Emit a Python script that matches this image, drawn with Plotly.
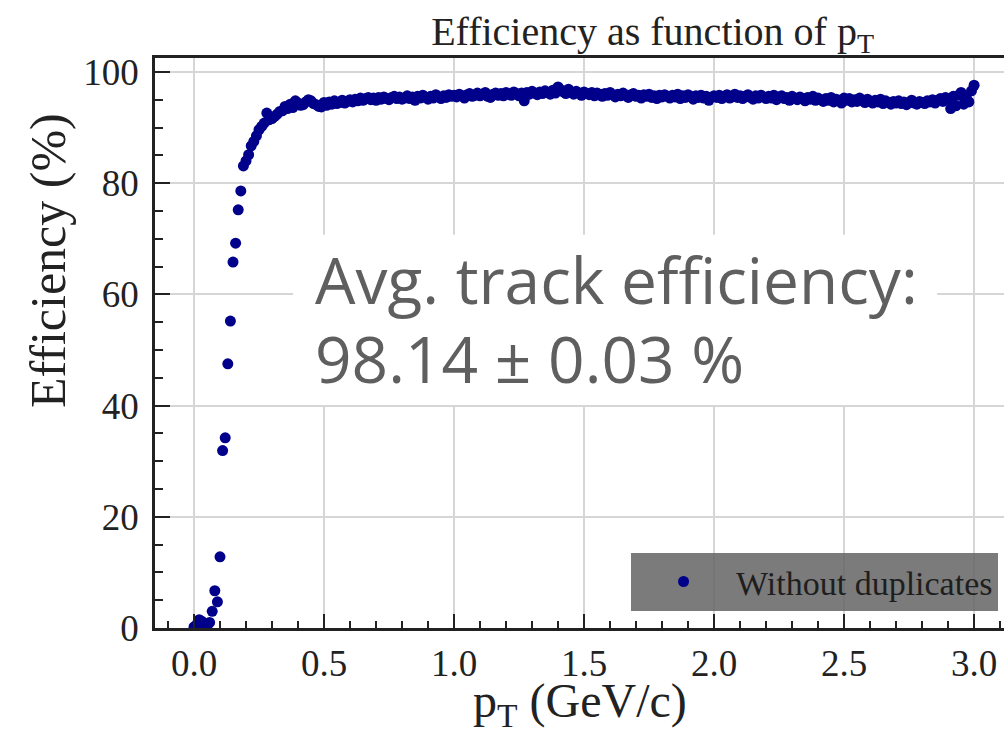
import plotly.graph_objects as go

# transverse momentum bins (GeV/c)
pt = [
    0.00, 0.01, 0.02, 0.03, 0.04, 0.05, 0.06, 0.07, 0.08, 0.09,
    0.10, 0.11, 0.12, 0.13, 0.14, 0.15, 0.16, 0.17, 0.18, 0.19,
    0.20, 0.21, 0.22, 0.23, 0.24, 0.25, 0.26, 0.27, 0.28, 0.29,
    0.30, 0.31, 0.32, 0.33, 0.34, 0.35, 0.36, 0.37, 0.38, 0.39,
    0.40, 0.41, 0.42, 0.43, 0.44, 0.45, 0.46, 0.47, 0.48, 0.49,
    0.50, 0.51, 0.52, 0.53, 0.54, 0.55, 0.56, 0.57, 0.58, 0.59,
    0.60, 0.61, 0.62, 0.63, 0.64, 0.65, 0.66, 0.67, 0.68, 0.69,
    0.70, 0.71, 0.72, 0.73, 0.74, 0.75, 0.76, 0.77, 0.78, 0.79,
    0.80, 0.81, 0.82, 0.83, 0.84, 0.85, 0.86, 0.87, 0.88, 0.89,
    0.90, 0.91, 0.92, 0.93, 0.94, 0.95, 0.96, 0.97, 0.98, 0.99,
    1.00, 1.01, 1.02, 1.03, 1.04, 1.05, 1.06, 1.07, 1.08, 1.09,
    1.10, 1.11, 1.12, 1.13, 1.14, 1.15, 1.16, 1.17, 1.18, 1.19,
    1.20, 1.21, 1.22, 1.23, 1.24, 1.25, 1.26, 1.27, 1.28, 1.29,
    1.30, 1.31, 1.32, 1.33, 1.34, 1.35, 1.36, 1.37, 1.38, 1.39,
    1.40, 1.41, 1.42, 1.43, 1.44, 1.45, 1.46, 1.47, 1.48, 1.49,
    1.50, 1.51, 1.52, 1.53, 1.54, 1.55, 1.56, 1.57, 1.58, 1.59,
    1.60, 1.61, 1.62, 1.63, 1.64, 1.65, 1.66, 1.67, 1.68, 1.69,
    1.70, 1.71, 1.72, 1.73, 1.74, 1.75, 1.76, 1.77, 1.78, 1.79,
    1.80, 1.81, 1.82, 1.83, 1.84, 1.85, 1.86, 1.87, 1.88, 1.89,
    1.90, 1.91, 1.92, 1.93, 1.94, 1.95, 1.96, 1.97, 1.98, 1.99,
    2.00, 2.01, 2.02, 2.03, 2.04, 2.05, 2.06, 2.07, 2.08, 2.09,
    2.10, 2.11, 2.12, 2.13, 2.14, 2.15, 2.16, 2.17, 2.18, 2.19,
    2.20, 2.21, 2.22, 2.23, 2.24, 2.25, 2.26, 2.27, 2.28, 2.29,
    2.30, 2.31, 2.32, 2.33, 2.34, 2.35, 2.36, 2.37, 2.38, 2.39,
    2.40, 2.41, 2.42, 2.43, 2.44, 2.45, 2.46, 2.47, 2.48, 2.49,
    2.50, 2.51, 2.52, 2.53, 2.54, 2.55, 2.56, 2.57, 2.58, 2.59,
    2.60, 2.61, 2.62, 2.63, 2.64, 2.65, 2.66, 2.67, 2.68, 2.69,
    2.70, 2.71, 2.72, 2.73, 2.74, 2.75, 2.76, 2.77, 2.78, 2.79,
    2.80, 2.81, 2.82, 2.83, 2.84, 2.85, 2.86, 2.87, 2.88, 2.89,
    2.90, 2.91, 2.92, 2.93, 2.94, 2.95, 2.96, 2.97, 2.98, 2.99,
    3.00,
]

# efficiency (%) per bin
efficiency = [
    0.2, 0.6, 1.5, 1.2, 0.8, 0.3, 1.0, 3.0, 6.7, 4.7,
    12.8, 31.9, 34.2, 47.5, 55.2, 65.8, 69.2, 75.2, 78.6, 83.1,
    84.0, 85.1, 86.7, 87.5, 88.5, 89.6, 90.2, 90.8, 92.6, 91.4,
    91.6, 92.0, 92.4, 92.9, 93.0, 93.8, 93.4, 94.2, 93.6, 94.8,
    94.4, 94.0, 94.1, 94.6, 95.0, 94.8, 94.3, 94.1, 93.8, 93.7,
    94.5, 94.0, 94.6, 94.2, 94.8, 94.3, 94.5, 94.9, 94.4, 94.7,
    95.0, 94.6, 95.1, 94.8, 95.3, 94.9, 95.2, 95.4, 95.0, 95.3,
    94.9, 95.4, 95.1, 95.5, 95.2, 95.0, 95.4, 95.6, 95.2, 95.5,
    95.1, 95.3, 95.7, 95.2, 95.5, 94.9, 95.6, 95.3, 95.8, 95.4,
    95.1, 95.6, 95.3, 95.9, 95.5, 95.2, 95.7, 95.4, 95.9, 95.6,
    95.8, 95.5, 96.0, 95.7, 95.3, 95.9, 96.1, 95.6, 95.8, 96.2,
    95.7, 95.9, 96.3, 95.6, 95.4, 96.0, 96.2, 95.8, 96.1, 95.7,
    96.3, 96.0, 95.8, 96.4, 96.1, 95.7, 96.2, 94.8, 96.3, 96.0,
    96.5, 96.2, 95.9, 96.4, 96.1, 96.6, 96.3, 96.0, 96.7, 96.2,
    97.3, 96.8, 96.4, 96.1, 96.9, 96.3, 96.0, 96.5, 96.2, 95.8,
    96.4, 96.1, 95.9, 96.3, 95.7, 96.2, 96.0, 95.6, 96.1, 95.8,
    96.3, 95.9, 95.5, 96.0, 95.7, 96.2, 95.8, 95.4, 95.9, 96.1,
    95.6, 95.8, 95.3, 95.9, 95.6, 96.0, 95.4, 95.7, 95.2, 95.8,
    95.5, 95.9, 95.6, 95.3, 95.8, 95.5, 96.0, 95.2, 95.7, 95.4,
    95.9, 95.6, 95.1, 95.7, 95.4, 95.8, 95.3, 95.6, 94.9, 95.5,
    95.7, 95.4, 95.8, 95.2, 95.6, 95.9, 95.3, 95.5, 96.0, 95.4,
    95.7, 95.2, 95.6, 95.9, 95.4, 95.1, 95.7, 95.3, 95.8, 95.5,
    95.2, 95.6, 95.3, 95.8, 95.0, 95.5, 95.7, 95.2, 95.4, 94.9,
    95.6, 95.3, 95.0, 95.5, 95.2, 94.8, 95.4, 95.1, 95.6, 94.9,
    95.3, 95.0, 94.7, 95.2, 94.9, 95.4, 94.6, 95.1, 94.8, 94.4,
    95.3, 94.9, 95.2, 94.6, 95.0, 94.7, 95.3, 94.8, 94.5, 95.1,
    94.7, 94.4, 94.9, 94.6, 95.1, 94.3, 94.8, 94.5, 94.2, 94.7,
    94.4, 94.8, 94.3, 94.6, 94.1, 94.5, 94.9, 94.4, 94.2, 94.7,
    94.5, 94.3, 94.8, 94.6, 95.0, 94.4, 94.9, 95.2, 94.7, 95.4,
    95.1, 93.4, 95.6, 93.9, 95.8, 96.3, 94.2, 95.5, 94.6, 96.6,
    97.6,
]

series_name = "Without duplicates"
chart_title = "Efficiency as function of p<sub>T</sub>"
x_title = "p<sub>T</sub> (GeV/c)"
y_title = "Efficiency (%)"
note_line1 = "Avg. track efficiency:"
note_line2 = "98.14 ± 0.03 %"
x_tickvals = [0.0, 0.5, 1.0, 1.5, 2.0, 2.5, 3.0]
y_tickvals = [0, 20, 40, 60, 80, 100]

SERIF = "Liberation Serif, Times New Roman, serif"
SANS = "Open Sans, Noto Sans, sans-serif"
AXIS_COLOR = "#222222"
GRID_COLOR = "#d6d6d6"

fig = go.Figure()
fig.add_trace(go.Scatter(
    x=pt, y=efficiency, mode="markers", name=series_name,
    marker=dict(color="#00008b", size=11, line=dict(width=0)),
))

fig.update_layout(
    width=1004, height=744,
    margin=dict(l=155, r=0, t=58, b=116),
    paper_bgcolor="white", plot_bgcolor="white",
    font=dict(family=SERIF, color="#222222"),
    title=dict(text=chart_title, font=dict(family=SERIF, size=40, color="#222222"),
               x=0.650, xref="container", xanchor="center",
               y=1 - 31 / 744, yref="container", yanchor="middle"),
    showlegend=True,
    legend=dict(
        x=0.993, y=0.03, xanchor="right", yanchor="bottom",
        bgcolor="rgba(100,100,100,0.85)", borderwidth=0,
        font=dict(family=SERIF, size=34, color="#1e1e1e"),
        itemwidth=95,
    ),
)

fig.update_xaxes(
    range=[-0.15, 3.115], tickvals=x_tickvals, tickformat=".1f",
    showline=True, linecolor=AXIS_COLOR, linewidth=2.5, mirror=True,
    ticks="inside", ticklen=14, tickwidth=2, tickcolor=AXIS_COLOR,
    minor=dict(dtick=0.1, tick0=0, ticks="inside", ticklen=7, tickwidth=1.5,
               tickcolor=AXIS_COLOR, showgrid=False),
    showgrid=True, gridcolor=GRID_COLOR, gridwidth=2, zeroline=False,
    tickfont=dict(family=SERIF, size=37, color="#222222"),
    ticklabelstandoff=1,
)
fig.update_yaxes(
    range=[0, 102.5], tickvals=y_tickvals,
    showline=True, linecolor=AXIS_COLOR, linewidth=2.5, mirror=False,
    ticks="inside", ticklen=15, tickwidth=2, tickcolor=AXIS_COLOR,
    minor=dict(dtick=5, tick0=0, ticks="inside", ticklen=8, tickwidth=1.5,
               tickcolor=AXIS_COLOR, showgrid=False),
    showgrid=True, gridcolor=GRID_COLOR, gridwidth=2, zeroline=False,
    tickfont=dict(family=SERIF, size=37, color="#222222"),
    ticklabelstandoff=6,
)

# white box behind the average-efficiency note
fig.add_shape(type="rect", xref="x", yref="y",
              x0=0.381, x1=2.858, y0=40.1, y1=70.7,
              fillcolor="white", line=dict(width=0), layer="above")

fig.add_annotation(x=0.458, y=62.6, xref="x", yref="y", text=note_line1,
                   showarrow=False, xanchor="left", yanchor="middle",
                   font=dict(family=SANS, size=64, color="#5f5f5f"))
fig.add_annotation(x=0.458, y=48.5, xref="x", yref="y", text=note_line2,
                   showarrow=False, xanchor="left", yanchor="middle",
                   font=dict(family=SANS, size=64, color="#5f5f5f"))

# x-axis title
fig.add_annotation(x=0.5, y=(628 - 704) / 570, xref="paper", yref="paper",
                   text=x_title, showarrow=False,
                   xanchor="center", yanchor="middle",
                   font=dict(family=SERIF, size=48, color="#222222"))

# y-axis title (placed to the left of the plot area)
fig.add_annotation(x=(48 - 155) / 849, y=(628 - 261) / 570, xref="paper", yref="paper",
                   text=y_title, textangle=-90, showarrow=False,
                   xanchor="center", yanchor="middle",
                   font=dict(family=SERIF, size=50, color="#222222"))

fig.write_html("out.html")
